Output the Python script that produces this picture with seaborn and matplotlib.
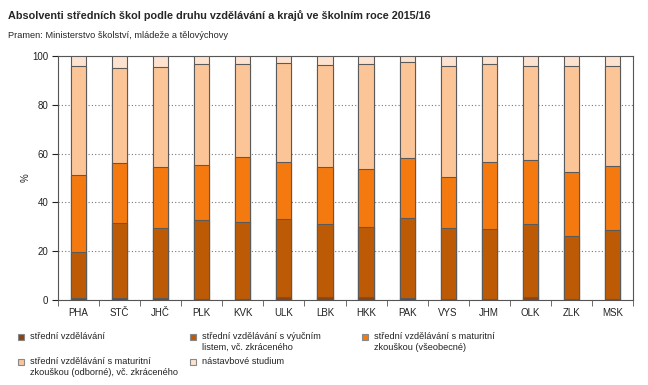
import numpy as np
import pandas as pd
import matplotlib
matplotlib.use("Agg")
import matplotlib.pyplot as plt
import seaborn as sns
from matplotlib.patches import Rectangle
from matplotlib.ticker import FixedLocator

sns.set_style("white")
plt.rcParams['font.family'] = ['Liberation Sans', 'DejaVu Sans']

# kraje
kraje = ['PHA', 'STČ', 'JHČ', 'PLK', 'KVK', 'ULK', 'LBK',
         'HKK', 'PAK', 'VYS', 'JHM', 'OLK', 'ZLK', 'MSK']

# podíly absolventů (%) podle druhu vzdělávání
stredni = [0.8, 0.8, 0.8, 0.4, 0.4, 1.2, 1.2, 1.2, 0.7, 0.6, 0.6, 1.2, 0.3, 0.6]
vyucni = [18.7, 30.9, 28.8, 32.4, 31.7, 32.0, 29.8, 28.9, 33.0, 29.0, 28.6, 29.8, 26.1, 28.0]
mat_vseob = [31.6, 24.3, 24.9, 22.5, 26.5, 23.2, 23.4, 23.7, 24.5, 20.8, 27.4, 26.4, 26.1, 26.3]
mat_odb = [44.7, 38.9, 40.9, 41.3, 38.0, 40.6, 41.8, 42.9, 39.3, 45.5, 40.0, 38.5, 43.4, 41.0]
nastavba = [4.2, 5.1, 4.6, 3.4, 3.4, 3.0, 3.8, 3.3, 2.5, 4.1, 3.4, 4.1, 4.1, 4.1]

popisky = ['střední vzdělávání',
           'střední vzdělávání s výučním\nlistem, vč. zkráceného',
           'střední vzdělávání s maturitní\nzkouškou (všeobecné)',
           'střední vzdělávání s maturitní\nzkouškou (odborné), vč. zkráceného',
           'nástavbové studium']
barvy = ['#8C4510', '#BD5A06', '#F47A10', '#FCC597', '#FDE3CF']

df = pd.DataFrame({'kraj': kraje, 's1': stredni, 's2': vyucni,
                   's3': mat_vseob, 's4': mat_odb, 's5': nastavba})
cols = ['s1', 's2', 's3', 's4', 's5']
kum = df[cols].cumsum(axis=1)

W, H = 648, 385
fig = plt.figure(figsize=(W / 100, H / 100), dpi=100)
ax = fig.add_axes([58 / W, 1 - 300 / H, 575 / W, 244 / H])

# skládané sloupce - kreslíme od nejvyššího součtu po nejnižší
for i in range(4, -1, -1):
    sns.barplot(x=df['kraj'], y=kum[cols[i]], order=kraje, color=barvy[i],
                width=0.37, edgecolor='#5a5a5a', linewidth=0.8,
                saturation=1, ax=ax, zorder=3)

ax.set_ylim(0, 100)
ax.set_xlim(-0.5, len(kraje) - 0.5)
ax.set_yticks(range(0, 101, 20))
ax.yaxis.grid(True, linestyle=(0, (1, 2)), color='#777777', linewidth=0.8)
ax.set_axisbelow(True)
ax.set_xlabel('')
ax.set_ylabel('%', fontsize=7, labelpad=1)
ax.tick_params(axis='x', length=0, labelsize=7, pad=6, colors='#222222')
ax.tick_params(axis='y', length=4, direction='out', left=True, labelsize=7,
               colors='#222222', pad=3)
ax.xaxis.set_minor_locator(FixedLocator(np.arange(-0.5, len(kraje), 1)))
ax.tick_params(axis='x', which='minor', length=4, direction='out', bottom=True,
               color='#555555')
for s in ax.spines.values():
    s.set_color('#555555')
    s.set_linewidth(0.8)

fig.text(8 / W, 1 - 16 / H, 'Absolventi středních škol podle druhu vzdělávání a krajů ve školním roce 2015/16',
         fontsize=7.8, fontweight='bold', va='center', ha='left')
fig.text(8 / W, 1 - 35 / H, 'Pramen: Ministerstvo školství, mládeže a tělovýchovy',
         fontsize=6.7, va='center', ha='left')

# legenda: 3 sloupce, 2 řádky (ručně, značka zarovnaná s prvním řádkem)
pozice = [(18, 333), (190, 333), (362, 333), (18, 358), (190, 358)]
for (px, py), b, txt in zip(pozice, barvy, popisky):
    fig.patches.append(Rectangle((px / W, 1 - (py + 6.5) / H), 6 / W, 6 / H,
                                 transform=fig.transFigure, facecolor=b,
                                 edgecolor='#888888', linewidth=0.8))
    fig.text((px + 12) / W, 1 - (py - 1) / H, txt, fontsize=6.6, va='top',
             ha='left', linespacing=1.25, color='#222222')

fig.savefig('out.png', dpi=100)
